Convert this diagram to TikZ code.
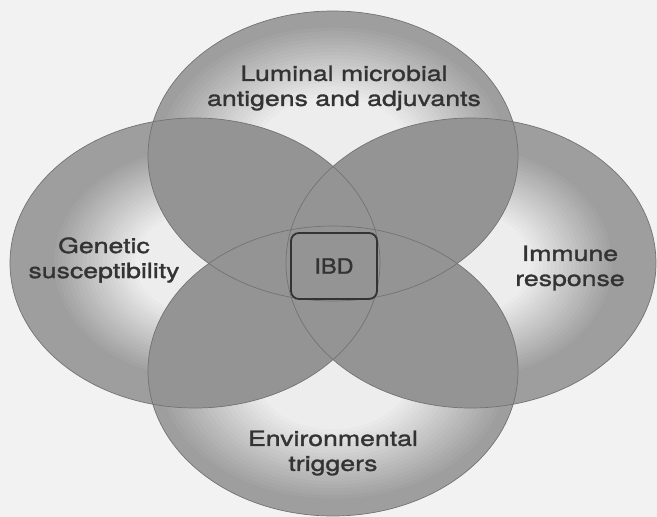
\documentclass[tikz,border=0pt]{standalone}
\usepackage{fontspec}
\setmainfont[FakeStretch=1.27,FakeBold=1.4]{TeX Gyre Heros}
\newfontfamily\ibdfont[FakeStretch=1.12,FakeBold=1.4]{TeX Gyre Heros}
\definecolor{bgcol}{gray}{0.95}
\definecolor{rimcol}{gray}{0.62}
\definecolor{hicol}{gray}{0.93}
\definecolor{ovcol}{gray}{0.58}
\definecolor{edgecol}{gray}{0.45}
\definecolor{txtcol}{gray}{0.2}
% stepped radial highlight: centre x, centre y, x radius, y radius
\newcommand\myhilite[4]{%
  \foreach \i in {0,...,30}{%
    \pgfmathsetmacro\sfac{1-\i*0.027}%
    \pgfmathsetmacro\mix{min(100,\i*100/21)}%
    \fill[hicol!\mix!rimcol] (#1,#2) ellipse [x radius=\sfac*#3 pt, y radius=\sfac*#4 pt];
  }}
\tikzset{
  lbl/.style={font=\fontsize{21}{25}\selectfont, text=txtcol, align=center, inner sep=0pt},
  venn/.style={x radius=185pt, y radius=145pt},
  ovl/.style={fill=ovcol},
  rim/.style={draw=edgecol, line width=0.7pt},
  ibdbox/.style={draw=black!80, line width=1.8pt, rounded corners=8pt, minimum width=86pt, minimum height=66pt, text=txtcol, font=\ibdfont\fontsize{21}{25}\selectfont}
}
\begin{document}
\begin{tikzpicture}[x=1pt,y=-1pt]
\fill[bgcol] (0,0) rectangle (657,517);
\useasboundingbox (0,0) rectangle (657,517);
\coordinate (cT) at (333,156);
\coordinate (cB) at (333,371);
\coordinate (cL) at (195,263);
\coordinate (cR) at (471,263);
% base fills
\foreach \p in {cT,cB,cL,cR} \fill[rimcol] (\p) ellipse [venn];
% light highlights in the exclusive parts
\begin{scope}\clip (cL) ellipse [venn]; \myhilite{200}{263}{150}{118}\end{scope}
\begin{scope}\clip (cR) ellipse [venn]; \myhilite{466}{263}{150}{118}\end{scope}
\begin{scope}\clip (cT) ellipse [venn]; \myhilite{333}{152}{178}{128}\end{scope}
\begin{scope}\clip (cB) ellipse [venn]; \myhilite{333}{374}{178}{128}\end{scope}
% overlaps
\begin{scope}\clip (cT) ellipse [venn]; \fill[ovl] (cL) ellipse [venn];\end{scope}
\begin{scope}\clip (cT) ellipse [venn]; \fill[ovl] (cR) ellipse [venn];\end{scope}
\begin{scope}\clip (cB) ellipse [venn]; \fill[ovl] (cL) ellipse [venn];\end{scope}
\begin{scope}\clip (cB) ellipse [venn]; \fill[ovl] (cR) ellipse [venn];\end{scope}
\begin{scope}\clip (cL) ellipse [venn]; \fill[ovl] (cR) ellipse [venn];\end{scope}
\begin{scope}\clip (cT) ellipse [venn]; \fill[ovl] (cB) ellipse [venn];\end{scope}
% outlines
\foreach \p in {cT,cB,cL,cR} \draw[rim] (\p) ellipse [venn];
% labels
\node[lbl] (lum) at (344,88) {Luminal microbial\\antigens and adjuvants};
\node[lbl] (gen) at (104,260) {Genetic\\susceptibility};
\node[lbl] (imm) at (570,268) {Immune\\response};
\node[lbl] (env) at (333,453) {Environmental\\triggers};
\node[ibdbox] (ibd) at (334,266) {IBD};
\end{tikzpicture}
\end{document}
